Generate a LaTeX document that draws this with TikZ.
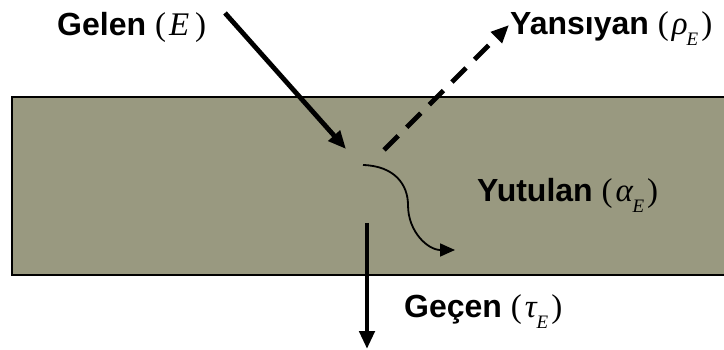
\documentclass[tikz,border=0pt]{standalone}
\usepackage{fontspec}
\setmainfont{Liberation Sans}
\newfontfamily\tms{Liberation Serif}
\usetikzlibrary{arrows.meta}
\definecolor{slab}{RGB}{153,153,128}
\newcommand{\qsym}[2]{{\fontsize{33}{37}\selectfont\tms(\kern3pt\textit{#1}\kern-1pt\raisebox{-11pt}{\fontsize{19}{19}\selectfont\textit{#2}}\kern3pt)}}
\tikzset{
  lbl/.style={anchor=base west, inner sep=0pt, font=\fontsize{32}{38}\selectfont},
  thickarrow/.style={line width=4.8pt, -{Triangle[length=18pt,width=15pt]}},
  thinarrow/.style={line width=1.8pt, -{Triangle[length=15pt,width=13pt]}},
}
\begin{document}
\begin{tikzpicture}[x=1pt,y=-1pt]
\clip (0,0) rectangle (724,350);
\fill[white] (0,0) rectangle (724,350);
\draw[line width=2.2pt, fill=slab] (12,97) rectangle (740,275);
% labels
\node[lbl] (gelen) at (57,36) {\textbf{Gelen} {\fontsize{33}{37}\selectfont\tms(\kern3pt\textit{E}\kern6pt)}};
\node[lbl] (yans) at (510,35) {\textbf{Yansıyan} \qsym{ρ}{E}};
\node[lbl] (yut) at (477,202) {\textbf{Yutulan} \qsym{α}{E}};
\node[lbl] (gec) at (404,318) {\textbf{Geçen} \qsym{τ}{E}};
% coordinates
\coordinate (inA) at (225,13);
\coordinate (inB) at (346,149);
\coordinate (refA) at (384,150);
\coordinate (refB) at (509,25);
\coordinate (absA) at (363,165);
\coordinate (absB) at (455,250);
\coordinate (trA) at (367,223);
\coordinate (trB) at (367,349);
% arrows
\draw[thickarrow] (inA) -- (inB);
\draw[thickarrow, dash pattern=on 20pt off 12pt] (refA) -- (refB);
\draw[thinarrow] (absA) .. controls (395,166) and (408,185) .. (408,205)
  .. controls (408,232) and (428,250) .. (absB);
\draw[thickarrow] (trA) -- (trB);
\end{tikzpicture}
\end{document}
